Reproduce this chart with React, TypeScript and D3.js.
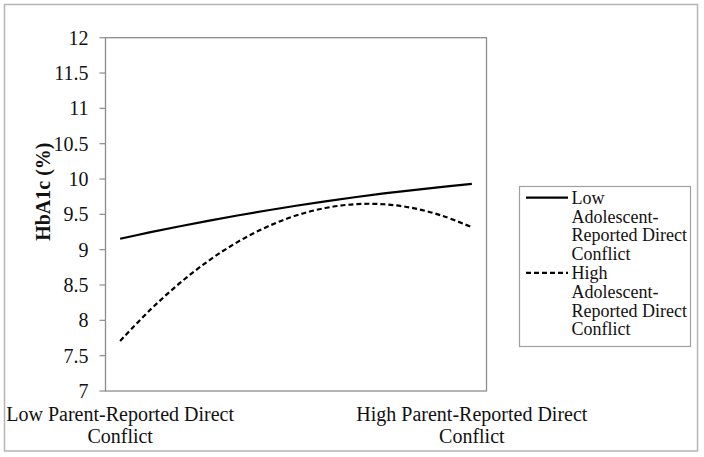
import React from "react";
import * as d3 from "d3";

const categories = [
  "Low Parent-Reported Direct Conflict", "", "", "", "", "", "", "", "", "", "", "",
  "High Parent-Reported Direct Conflict",
];
const lowAdolescent = [9.155, 9.244, 9.328, 9.408, 9.484, 9.555, 9.622, 9.684, 9.742, 9.796, 9.844, 9.889, 9.93];
const highAdolescent = [7.708, 8.138, 8.515, 8.838, 9.107, 9.322, 9.483, 9.59, 9.643, 9.643, 9.588, 9.479, 9.317];
const yTicks = [7, 7.5, 8, 8.5, 9, 9.5, 10, 10.5, 11, 11.5, 12];
const seriesNames = [
  ["Low", "Adolescent-", "Reported Direct", "Conflict"],
  ["High", "Adolescent-", "Reported Direct", "Conflict"],
];
const yTitle = "HbA1c (%)";

const W = 704, H = 457;
const plot = { left: 105.5, right: 486.5, top: 37.7, bottom: 391 };
const FONT = "'Liberation Serif', 'Times New Roman', Times, serif";
const tStyle = { fontFamily: FONT };

export default function App() {
  const x = d3.scaleBand<number>()
    .domain(categories.map((_, i) => i))
    .range([plot.left, plot.right]);
  const cx = (i: number) => (x(i) ?? 0) + x.bandwidth() / 2;
  const y = d3.scaleLinear().domain([7, 12]).range([plot.bottom, plot.top]);
  const line = d3.line<number>()
    .x((_, i) => cx(i))
    .y((d) => y(d))
    .curve(d3.curveCatmullRom.alpha(0.5));

  const legendX = 519.5, legendY = 186.5, legendW = 171, legendH = 160;
  const lineH = 18.8;

  return (
    <svg width={W} height={H} style={{ position: "absolute", left: 0, top: 0, background: "#fff" }}>
      <rect x={0} y={0} width={W} height={H} fill="#fff" />
      <rect x={4.5} y={4.5} width={693} height={446.5} fill="none" stroke="#b5b5b5" strokeWidth={1.5} />
      {/* plot frame */}
      <rect x={plot.left} y={plot.top} width={plot.right - plot.left} height={plot.bottom - plot.top}
        fill="none" stroke="#8c8c8c" strokeWidth={1.3} />
      {/* y ticks */}
      {yTicks.map((t) => (
        <g key={t}>
          <line x1={99.5} x2={plot.left} y1={y(t)} y2={y(t)} stroke="#8c8c8c" strokeWidth={1.2} />
          <text x={88.5} y={y(t) + 7} textAnchor="end" fontSize={20} fill="#111" style={tStyle}>
            {String(t)}
          </text>
        </g>
      ))}
      {/* y title */}
      <text transform={`translate(49.5,191.7) rotate(-90)`} textAnchor="middle" fontSize={20}
        fontWeight="bold" fill="#111" style={tStyle}>{yTitle}</text>
      {/* x labels */}
      {categories.map((c, i) => {
        if (!c) return null;
        const words = c.split(" ");
        const l1 = words.slice(0, 3).join(" ");
        const l2 = words.slice(3).join(" ");
        return (
          <text key={i} x={cx(i)} textAnchor="middle" fontSize={20} fill="#111" style={tStyle}>
            <tspan x={cx(i)} y={421}>{l1}</tspan>
            <tspan x={cx(i)} y={443}>{l2}</tspan>
          </text>
        );
      })}
      {/* series */}
      <path d={line(lowAdolescent) ?? ""} fill="none" stroke="#000" strokeWidth={2.2} />
      <path d={line(highAdolescent) ?? ""} fill="none" stroke="#000" strokeWidth={2.2} strokeDasharray="5,3" />
      {/* legend */}
      <rect x={legendX} y={legendY} width={legendW} height={legendH} fill="#fff" stroke="#a0a0a0" strokeWidth={1.2} />
      {seriesNames.map((lines, s) => {
        const y0 = 197.7 + s * 4 * lineH;
        return (
          <g key={s}>
            <line x1={526} x2={568} y1={y0} y2={y0} stroke="#000" strokeWidth={2.2}
              strokeDasharray={s === 1 ? "5,3" : undefined} />
            {lines.map((t, k) => (
              <text key={k} x={571.5} y={y0 + k * lineH + 6} fontSize={18} fill="#111" style={tStyle}>{t}</text>
            ))}
          </g>
        );
      })}
    </svg>
  );
}
